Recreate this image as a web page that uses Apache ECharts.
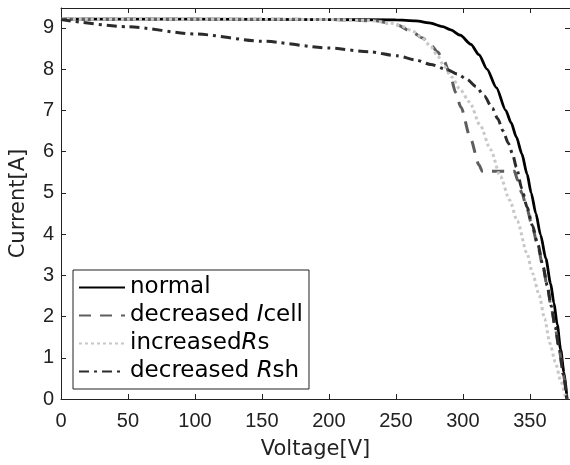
<!DOCTYPE html>
<html>
<head>
<meta charset="utf-8">
<script src="https://cdn.jsdelivr.net/npm/echarts@6/dist/echarts.min.js"></script>
<style>
  html, body { margin: 0; padding: 0; background: #fff; }
  #chart { width: 570px; height: 465px; }
</style>
</head>
<body>
<div id="chart"></div>
<script>
// I–V characteristics of a PV string under different fault conditions
const seriesNames = ['normal', 'decreased Icell', 'increased Rs', 'decreased Rsh'];

const normalV = [0, 100, 200, 250, 265, 275, 285, 291, 298, 306, 312, 318, 325, 332, 336, 340, 344, 348, 351, 354.5, 358, 362, 365.5, 368, 370.5, 373, 375.5, 377.8];
const normalI = [9.21, 9.21, 9.2, 9.19, 9.17, 9.12, 9.03, 8.95, 8.82, 8.6, 8.35, 8.0, 7.55, 7.0, 6.7, 6.35, 5.95, 5.45, 5.0, 4.5, 3.98, 3.4, 2.8, 2.33, 1.8, 1.2, 0.65, 0];

const icellV = [0, 150, 200, 235, 251, 263.5, 270, 276, 281, 286, 290.8, 294.6, 298.5, 305.7, 312, 314.5, 338.5, 341, 344, 348, 352, 356, 360, 363, 366, 369, 372, 375, 377.6];
const icellI = [9.21, 9.21, 9.2, 9.17, 9.07, 8.87, 8.75, 8.59, 8.42, 8.19, 7.83, 7.43, 7.08, 6.32, 5.68, 5.52, 5.52, 5.3, 5.0, 4.6, 4.15, 3.7, 3.18, 2.72, 2.22, 1.72, 1.18, 0.6, 0];

const rsV = [0, 150, 200, 230, 245, 255, 262, 269, 276, 281, 286, 292, 298, 305, 313, 320.7, 328, 335, 340.6, 348, 352, 357, 361, 365, 369, 373, 376.8];
const rsI = [9.21, 9.21, 9.2, 9.18, 9.12, 9.03, 8.93, 8.78, 8.55, 8.33, 8.07, 7.8, 7.5, 7.2, 6.63, 6.05, 5.4, 4.82, 4.32, 3.52, 3.05, 2.52, 1.95, 1.35, 0.9, 0.45, 0];

const rshV = [0, 50, 100, 150, 200, 230, 251, 265, 276, 288, 296, 303, 310, 316, 322, 326, 330, 334, 337, 340, 344, 348, 352, 356, 360, 363, 366, 369, 372, 375, 377.6];
const rshI = [9.2, 9.025, 8.85, 8.675, 8.51, 8.42, 8.32, 8.22, 8.11, 7.99, 7.88, 7.75, 7.57, 7.35, 7.05, 6.8, 6.5, 6.2, 5.95, 5.62, 5.1, 4.65, 4.2, 3.75, 3.2, 2.75, 2.25, 1.75, 1.2, 0.6, 0];

const xTicks = [0, 50, 100, 150, 200, 250, 300, 350];
const yTicks = [0, 1, 2, 3, 4, 5, 6, 7, 8, 9];

const pairs = (vs, is) => vs.map((v, k) => [v, is[k]]);

const TEXT_FONT = '"DejaVu Sans", sans-serif';
const NUM_FONT = '"Liberation Sans", Arial, sans-serif';
const INK = '#222';

const axisCommon = {
  axisLine: { show: true, onZero: false, lineStyle: { color: INK, width: 1 } },
  axisTick: { show: true, inside: true, length: 5, lineStyle: { color: INK } },
  splitLine: { show: false }
};

const chart = echarts.init(document.getElementById('chart'), null, { renderer: 'canvas' });

const lineStyles = [
  { color: '#000000', width: 2.8, type: 'solid' },
  { color: '#5e5e5e', width: 3, type: [12, 9] },
  { color: '#c8c8c8', width: 3, type: [3, 3] },
  { color: '#2b2b2b', width: 3, type: [10, 5, 3, 5] }
];
const seriesData = [pairs(normalV, normalI), pairs(icellV, icellI), pairs(rsV, rsI), pairs(rshV, rshI)];
const drawOrder = [2, 1, 3, 0];

chart.setOption({
  animation: false,
  backgroundColor: '#fff',
  grid: { left: 60, right: 0, top: 8, bottom: 61, containLabel: false },
  xAxis: [
    Object.assign({
      type: 'value', min: 0, max: 380, interval: 50, position: 'bottom',
      name: 'Voltage[V]', nameLocation: 'middle', nameGap: 40,
      nameTextStyle: { fontSize: 21, color: INK, fontFamily: TEXT_FONT },
      axisLabel: {
        margin: 12, fontSize: 20, color: INK, fontFamily: NUM_FONT, showMaxLabel: false,
        formatter: v => (xTicks.indexOf(v) >= 0 ? String(v) : '')
      }
    }, axisCommon),
    Object.assign({
      type: 'value', min: 0, max: 380, interval: 50, position: 'top',
      axisLabel: { show: false }
    }, axisCommon)
  ],
  yAxis: [
    Object.assign({
      type: 'value', min: 0, max: 9.48, interval: 1, position: 'left',
      name: 'Current[A]', nameLocation: 'middle', nameGap: 32,
      nameTextStyle: { fontSize: 21, color: INK, fontFamily: TEXT_FONT },
      axisLabel: {
        margin: 7, fontSize: 20, color: INK, fontFamily: NUM_FONT, showMaxLabel: false,
        formatter: v => (yTicks.indexOf(v) >= 0 ? String(v) : '')
      }
    }, axisCommon),
    Object.assign({
      type: 'value', min: 0, max: 9.48, interval: 1, position: 'right',
      axisLabel: { show: false }
    }, axisCommon)
  ],
  legend: {
    orient: 'vertical',
    left: 73, top: 270,
    padding: [6, 6, 6, 5],
    itemGap: 5,
    itemWidth: 46, itemHeight: 14,
    backgroundColor: '#fff',
    borderColor: INK, borderWidth: 1, borderRadius: 0,
    itemStyle: { opacity: 0 },
    data: seriesNames,
    formatter: function (name) {
      if (name === 'decreased Icell') return 'decreased {it|I}cell';
      if (name === 'increased Rs') return 'increased{it|R}s';
      if (name === 'decreased Rsh') return 'decreased {it|R}sh';
      return name;
    },
    textStyle: {
      fontSize: 23, color: '#000', fontFamily: TEXT_FONT,
      rich: { it: { fontSize: 23, fontStyle: 'italic', color: '#000', fontFamily: TEXT_FONT } }
    }
  },
  series: drawOrder.map(k => ({
    name: seriesNames[k],
    type: 'line',
    xAxisIndex: 0, yAxisIndex: 0,
    data: seriesData[k],
    showSymbol: false, symbol: 'none',
    smooth: 0.25, smoothMonotone: 'x',
    lineStyle: lineStyles[k],
    itemStyle: { color: lineStyles[k].color },
    z: 2 + k
  }))
});
</script>
</body>
</html>
